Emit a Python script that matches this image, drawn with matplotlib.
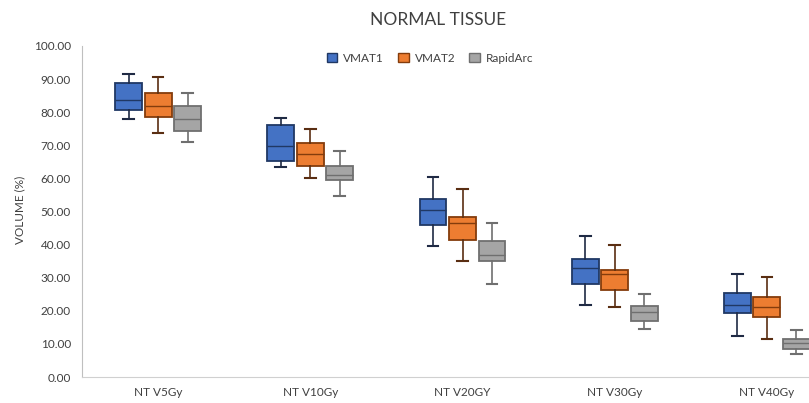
import matplotlib.pyplot as plt
from matplotlib.patches import Patch

plt.rcParams['font.family'] = ['Lato', 'DejaVu Sans']

categories = ['NT V5Gy', 'NT V10Gy', 'NT V20GY', 'NT V30Gy', 'NT V40Gy']
series = ['VMAT1', 'VMAT2', 'RapidArc']

# whisker low, q1, median, q3, whisker high per category
vmat1_lo = [77.9, 63.5, 39.7, 21.7, 12.4]
vmat1_q1 = [80.6, 65.3, 45.9, 28.2, 19.3]
vmat1_med = [83.8, 69.7, 50.6, 32.8, 21.8]
vmat1_q3 = [88.7, 76.2, 53.9, 35.5, 25.4]
vmat1_hi = [91.4, 78.2, 60.5, 42.6, 31.2]

vmat2_lo = [73.7, 60.2, 35.0, 21.2, 11.4]
vmat2_q1 = [78.7, 63.7, 41.4, 26.2, 18.1]
vmat2_med = [81.9, 67.4, 46.6, 31.1, 21.1]
vmat2_q3 = [85.8, 70.6, 48.3, 32.3, 24.2]
vmat2_hi = [90.7, 75.0, 56.7, 39.9, 30.2]

rapid_lo = [70.9, 54.7, 28.1, 14.4, 6.8]
rapid_q1 = [74.3, 59.5, 35.1, 17.0, 8.6]
rapid_med = [77.8, 61.0, 36.9, 19.7, 10.4]
rapid_q3 = [82.0, 63.7, 41.1, 21.5, 11.6]
rapid_hi = [85.7, 68.4, 46.4, 25.1, 14.3]

fills = ['#4472C4', '#ED7D31', '#A5A5A5']
edges = ['#203864', '#843C0C', '#6F6F6F']
whisk = ['#1F2A44', '#5A2E12', '#6F6F6F']

data = [
    (vmat1_lo, vmat1_q1, vmat1_med, vmat1_q3, vmat1_hi),
    (vmat2_lo, vmat2_q1, vmat2_med, vmat2_q3, vmat2_hi),
    (rapid_lo, rapid_q1, rapid_med, rapid_q3, rapid_hi),
]

fig = plt.figure(figsize=(8.09, 4.03), dpi=100)
ax = fig.add_axes([82 / 809, 26 / 403, 761 / 809, 331 / 403])

offsets = [-0.194, 0.0, 0.194]
for s, (lo, q1, med, q3, hi) in enumerate(data):
    stats = []
    for i in range(len(categories)):
        stats.append({'whislo': lo[i], 'q1': q1[i], 'med': med[i],
                      'q3': q3[i], 'whishi': hi[i], 'fliers': []})
    pos = [i + offsets[s] for i in range(len(categories))]
    ax.bxp(stats, positions=pos, widths=0.177, patch_artist=True,
           showfliers=False,
           boxprops=dict(facecolor=fills[s], edgecolor=edges[s], linewidth=1.3),
           medianprops=dict(color=edges[s], linewidth=1.0),
           whiskerprops=dict(color=whisk[s], linewidth=1.2),
           capprops=dict(color=whisk[s], linewidth=1.5),
           capwidths=0.07)

ax.set_xlim(-0.5, len(categories) - 0.5)
ax.set_ylim(0, 100)
ax.set_yticks(range(0, 101, 10))
ax.set_yticklabels([f'{v:.2f}' for v in range(0, 101, 10)])
ax.set_xticks(range(len(categories)))
ax.set_xticklabels(categories)
ax.tick_params(axis='both', length=0, labelsize=8.5, colors='#404040')
ax.tick_params(axis='y', pad=8)
ax.tick_params(axis='x', pad=7)

for side in ['top', 'right']:
    ax.spines[side].set_visible(False)
ax.spines['left'].set_color('#BFBFBF')
ax.spines['bottom'].set_color('#D0D0D0')

fig.text(20 / 809, 1 - 210 / 403, 'VOLUME (%)', rotation=90, ha='center',
         va='center', fontsize=8.5, color='#404040')
fig.text(438 / 809, 1 - 20 / 403, 'NORMAL TISSUE', ha='center', va='center',
         fontsize=12.5, color='#404040')

handles = [Patch(facecolor=fills[k], edgecolor=edges[k], label=series[k])
           for k in range(3)]
fig.legend(handles=handles, loc='center', bbox_to_anchor=(430 / 809, 1 - 58 / 403),
           ncol=3, frameon=False, fontsize=8.5, handlelength=0.9,
           handleheight=0.9, columnspacing=1.2, handletextpad=0.5,
           labelcolor='#404040')

fig.savefig('out.png', dpi=100)
